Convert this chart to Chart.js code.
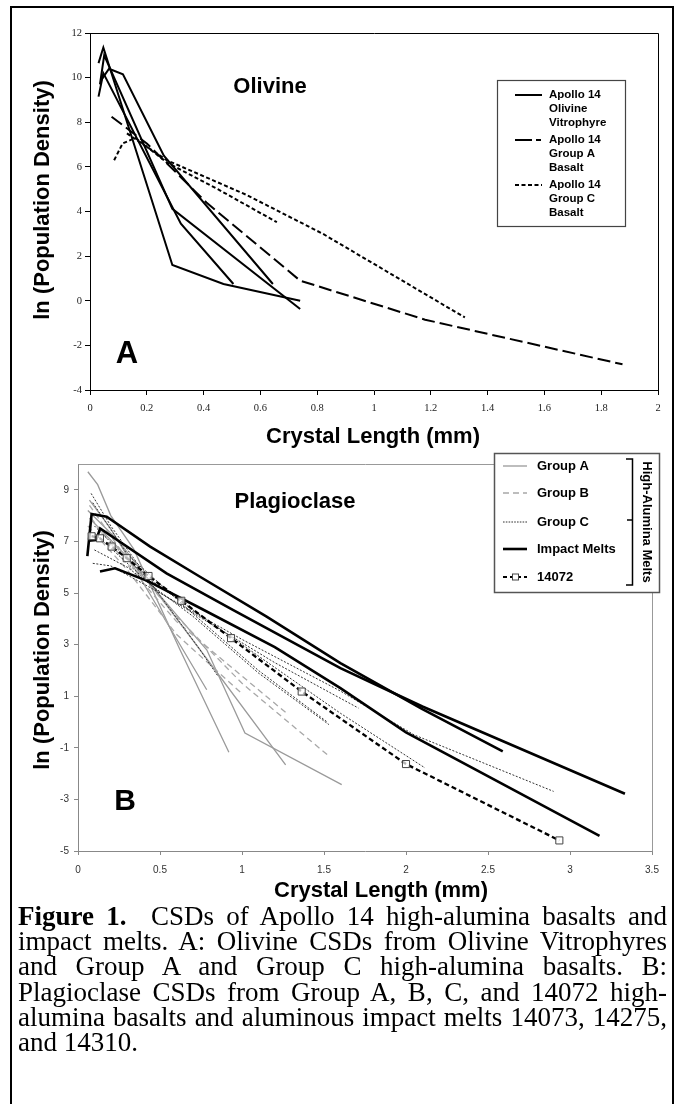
<!DOCTYPE html>
<html>
<head>
<meta charset="utf-8">
<title>CSDs of Apollo 14 high-alumina basalts and impact melts</title>
<script src="https://cdn.jsdelivr.net/npm/chart.js@4.4.1/dist/chart.umd.min.js"></script>
<style>
  html, body { margin: 0; padding: 0; background: #fff; }
  body { width: 681px; height: 1104px; position: relative; overflow: hidden; }
  #frame { position: absolute; left: 10px; top: 6px; width: 660px; height: 1110px; border: 2px solid #000; }
  #chartA { position: absolute; left: 0; top: 0; }
  #chartB { position: absolute; left: 0; top: 450px; }
  #caption {
    position: absolute; left: 18px; top: 904px; width: 649px;
    font-family: "Liberation Serif", "Times New Roman", serif;
    font-size: 27px; line-height: 25.2px; color: #000;
  }
  #caption div { text-align: justify; text-align-last: justify; white-space: nowrap; }
  #caption div.last { text-align-last: left; }
</style>
</head>
<body>
<div id="frame"></div>
<canvas id="chartA" width="681" height="450"></canvas>
<canvas id="chartB" width="681" height="460"></canvas>
<div id="caption">
  <div><b>Figure 1.</b>&nbsp; CSDs of Apollo 14 high-alumina basalts and</div>
  <div>impact melts. A: Olivine CSDs from Olivine Vitrophyres</div>
  <div>and Group A and Group C high-alumina basalts. B:</div>
  <div>Plagioclase CSDs from Group A, B, C, and 14072 high-</div>
  <div>alumina basalts and aluminous impact melts 14073, 14275,</div>
  <div class="last">and 14310.</div>
</div>
<script>
// ---- panel A : olivine, [crystal length mm, ln(population density)]
const olivineXTicks = [0, 0.2, 0.4, 0.6, 0.8, 1, 1.2, 1.4, 1.6, 1.8, 2];
const olivineYTicks = [-4, -2, 0, 2, 4, 6, 8, 10, 12];

const olivineVitro1 = [[0.03, 10.65], [0.047, 11.35], [0.29, 1.6], [0.47, 0.75], [0.74, 0.0]];
const olivineVitro2 = [[0.035, 9.7], [0.05, 11.0], [0.29, 4.12], [0.74, -0.37]];
const olivineVitro3 = [[0.03, 9.15], [0.047, 10.2], [0.32, 3.45], [0.505, 0.75]];
const olivineVitro4 = [[0.04, 9.9], [0.067, 10.4], [0.116, 10.15], [0.26, 6.5], [0.644, 0.75]];
const olivineGroupA = [[0.076, 8.25], [0.2, 7.05], [0.41, 4.4], [0.74, 0.9], [1.18, -0.85], [1.875, -2.85]];
const olivineGroupC1 = [[0.085, 6.3], [0.115, 7.05], [0.16, 7.3], [0.27, 6.2], [0.45, 5.0], [0.658, 3.52]];
const olivineGroupC2 = [[0.13, 7.5], [0.27, 6.3], [0.55, 4.75], [0.82, 3.0], [1.32, -0.75]];

const olivineLegend = [
  ["Apollo 14", "Olivine", "Vitrophyre"],
  ["Apollo 14", "Group A", "Basalt"],
  ["Apollo 14", "Group C", "Basalt"]
];

// ---- panel B : plagioclase
const plagXTicks = [0, 0.5, 1, 1.5, 2, 2.5, 3, 3.5];
const plagYTicks = [-5, -3, -1, 1, 3, 5, 7, 9];

const groupA1 = [[0.06, 9.7], [0.12, 9.2], [0.2, 8.0], [0.34, 6.7], [0.622, 2.8], [0.92, -1.17]];
const groupA2 = [[0.07, 8.6], [0.2, 7.5], [0.46, 4.73], [0.785, 1.25]];
const groupA3 = [[0.06, 8.2], [0.25, 7.0], [0.5, 4.9], [0.785, 2.8], [1.018, -0.43], [1.608, -2.43]];
const groupA4 = [[0.07, 7.9], [0.3, 6.4], [0.52, 4.7], [0.744, 2.8], [1.266, -1.66]];

const groupB1 = [[0.07, 8.4], [0.3, 6.3], [0.6, 4.1], [1.0, 1.5], [1.52, -1.27]];
const groupB2 = [[0.08, 7.9], [0.3, 6.1], [0.6, 3.9], [1.27, 0.35]];
const groupB3 = [[0.06, 7.6], [0.3, 5.9], [0.6, 3.4], [1.0, 1.1]];

const groupC1 = [[0.08, 8.86], [0.2, 7.6], [0.5, 4.9], [0.744, 2.8], [0.855, 1.76]];
const groupC2 = [[0.09, 8.5], [0.3, 6.5], [0.7, 4.2], [1.1, 2.0], [1.52, 0.0]];
const groupC3 = [[0.1, 6.67], [0.3, 6.0], [0.7, 4.1], [1.1, 1.9], [1.53, -0.1]];
const groupC4 = [[0.09, 6.15], [0.2, 6.05], [0.5, 5.0], [1.0, 3.2], [1.6, 1.2], [2.05, -0.5], [2.9, -2.69]];
const groupC5 = [[0.1, 7.6], [0.4, 5.7], [1.0, 3.0], [1.6, 0.34], [2.116, -1.78]];
const groupC6 = [[0.12, 7.2], [0.5, 5.0], [1.2, 2.3], [1.71, 0.54]];

const impact14073 = [[0.057, 6.43], [0.083, 8.06], [0.175, 7.96], [0.44, 6.8], [0.744, 5.63], [1.15, 4.08], [1.6, 2.28], [2.1, 0.5], [2.59, -1.14]];
const impact14275 = [[0.065, 7.03], [0.11, 7.05], [0.135, 7.5], [0.54, 5.76], [0.947, 4.34], [1.6, 2.09], [2.1, 0.6], [3.335, -2.78]];
const impact14310 = [[0.134, 5.83], [0.226, 5.96], [0.43, 5.45], [0.75, 4.4], [1.2, 2.9], [1.6, 1.31], [2.0, -0.4], [3.18, -4.41]];
const sample14072 = [[0.083, 7.2], [0.134, 7.12], [0.205, 6.8], [0.297, 6.35], [0.43, 5.66], [0.63, 4.7], [0.933, 3.25], [1.364, 1.18], [2.0, -1.63], [2.935, -4.59]];

const plagLegend = ["Group A", "Group B", "Group C", "Impact Melts", "14072"];

const SANS = '"Liberation Sans", Arial, sans-serif';
const SERIF = '"Liberation Serif", "Times New Roman", serif';

// line styles
const vitroStyle = { borderColor: "#000", borderWidth: 2 };
const basaltAStyle = { borderColor: "#000", borderWidth: 2, borderDash: [13, 5] };
const basaltCStyle = { borderColor: "#000", borderWidth: 2, borderDash: [4, 2.5] };
const grpAStyle = { borderColor: "#9a9a9a", borderWidth: 1.3 };
const grpBStyle = { borderColor: "#a8a8a8", borderWidth: 1.3, borderDash: [6, 4] };
const grpCStyle = { borderColor: "#333", borderWidth: 1, borderDash: [2, 1.6] };
const impactStyle = { borderColor: "#000", borderWidth: 2.6 };
const s14072Style = {
  borderColor: "#000", borderWidth: 2.3, borderDash: [5, 3],
  pointRadius: 5, pointStyle: "rect", pointBorderColor: "#444",
  pointBackgroundColor: "rgba(255,255,255,0.7)", pointBorderWidth: 1
};

function line(points, style) {
  return Object.assign({
    data: points.map(([x, y]) => ({ x, y })),
    showLine: true, pointRadius: 0, tension: 0, fill: false
  }, style);
}

// axis with a fixed box size and explicit ticks
function axis(size, ticks, min, max, look) {
  return {
    type: "linear", min: min, max: max,
    afterBuildTicks(s) { s.ticks = ticks.map(v => ({ value: v })); },
    afterFit(s) {
      if (s.isHorizontal()) s.height = size; else s.width = size;
      s.paddingLeft = s.paddingRight = s.paddingTop = s.paddingBottom = 0;
    },
    ticks: {
      font: look.font, color: look.labelColor, padding: look.pad,
      maxRotation: 0, autoSkip: false, callback: v => String(v)
    },
    grid: { drawOnChartArea: false, tickLength: look.tick, tickColor: look.lineColor, color: look.lineColor },
    border: { color: look.lineColor, width: 1 }
  };
}

function text(ctx, str, x, y, size, rot, weight) {
  ctx.save();
  ctx.translate(x, y);
  if (rot) ctx.rotate(rot);
  ctx.font = (weight || "bold") + " " + size + "px " + SANS;
  ctx.fillStyle = "#000";
  ctx.textAlign = "center";
  ctx.textBaseline = "middle";
  ctx.fillText(str, 0, 0);
  ctx.restore();
}

function sample(ctx, x1, x2, y, color, width, dash) {
  ctx.save();
  ctx.beginPath();
  ctx.strokeStyle = color;
  ctx.lineWidth = width;
  ctx.setLineDash(dash || []);
  ctx.moveTo(x1, y);
  ctx.lineTo(x2, y);
  ctx.stroke();
  ctx.restore();
}

function frameTopRight(ctx, a, color) {
  ctx.save();
  ctx.strokeStyle = color;
  ctx.lineWidth = 1;
  ctx.beginPath();
  ctx.moveTo(Math.round(a.left) + 0.5, Math.round(a.top) + 0.5);
  ctx.lineTo(Math.round(a.right) + 0.5, Math.round(a.top) + 0.5);
  ctx.lineTo(Math.round(a.right) + 0.5, Math.round(a.bottom) + 0.5);
  ctx.stroke();
  ctx.restore();
}

const olivineDecor = {
  id: "olivineDecor",
  afterDraw(chart) {
    const ctx = chart.ctx;
    frameTopRight(ctx, chart.chartArea, "#000");
    text(ctx, "ln (Population Density)", 43, 200, 22, -Math.PI / 2);
    text(ctx, "Crystal Length (mm)", 373, 437, 22);
    text(ctx, "Olivine", 270, 87, 22);
    text(ctx, "A", 127, 354, 31);

    // legend
    ctx.save();
    ctx.fillStyle = "#fff";
    ctx.fillRect(497, 80, 128, 146);
    ctx.strokeStyle = "#444";
    ctx.lineWidth = 1.2;
    ctx.strokeRect(497.5, 80.5, 128, 146);
    ctx.font = "bold 11.5px " + SANS;
    ctx.fillStyle = "#000";
    ctx.textBaseline = "middle";
    const rows = [95, 140, 185];
    olivineLegend.forEach((lines, i) => {
      lines.forEach((s, j) => ctx.fillText(s, 549, rows[i] + j * 13.7));
    });
    ctx.restore();
    sample(ctx, 515, 542, rows[0], "#000", 2);
    sample(ctx, 515, 542, rows[1], "#000", 2, [17, 4, 5, 100]);
    sample(ctx, 515, 542, rows[2], "#000", 2, [4, 2.5]);
  }
};

const plagDecor = {
  id: "plagDecor",
  afterDraw(chart) {
    const ctx = chart.ctx;
    frameTopRight(ctx, chart.chartArea, "#999");
    text(ctx, "ln (Population Density)", 43, 200, 22, -Math.PI / 2);
    text(ctx, "Crystal Length (mm)", 381, 441, 22);
    text(ctx, "Plagioclase", 295, 52, 22);
    text(ctx, "B", 125, 352, 30);

    // legend
    ctx.save();
    ctx.fillStyle = "#fff";
    ctx.fillRect(494, 3, 165, 139);
    ctx.strokeStyle = "#555";
    ctx.lineWidth = 1.5;
    ctx.strokeRect(494.5, 3.5, 165, 139);
    ctx.font = "bold 13px " + SANS;
    ctx.fillStyle = "#000";
    ctx.textBaseline = "middle";
    const rows = [16, 43, 72, 99, 127];
    plagLegend.forEach((s, i) => ctx.fillText(s, 537, rows[i]));
    ctx.restore();
    sample(ctx, 503, 527, rows[0], grpAStyle.borderColor, 1.3);
    sample(ctx, 503, 527, rows[1], grpBStyle.borderColor, 1.3, [6, 4]);
    sample(ctx, 503, 527, rows[2], "#333", 1, [1.6, 1.2]);
    sample(ctx, 503, 527, rows[3], "#000", 2.6);
    sample(ctx, 503, 527, rows[4], "#000", 2.2, [4, 3]);
    ctx.save();
    ctx.fillStyle = "#fff";
    ctx.strokeStyle = "#444";
    ctx.lineWidth = 1;
    ctx.fillRect(512, rows[4] - 3.5, 7, 7);
    ctx.strokeRect(512.5, rows[4] - 3, 6, 6);
    // bracket
    ctx.strokeStyle = "#000";
    ctx.lineWidth = 1.5;
    ctx.beginPath();
    ctx.moveTo(626, 9); ctx.lineTo(632.5, 9); ctx.lineTo(632.5, 135); ctx.lineTo(626, 135);
    ctx.moveTo(632.5, 70); ctx.lineTo(627, 70);
    ctx.stroke();
    ctx.restore();
    text(ctx, "High-Alumina Melts", 647, 72, 13, Math.PI / 2);
  }
};

const baseOptions = (padding) => ({
  responsive: false,
  animation: false,
  events: [],
  layout: { padding: padding },
  plugins: { legend: { display: false }, tooltip: { enabled: false } }
});

const lookA = { font: { family: SERIF, size: 10.5 }, labelColor: "#222", lineColor: "#000", tick: 5, pad: 3 };
const lookAx = Object.assign({}, lookA, { pad: 7 });
const lookB = { font: { family: SANS, size: 10 }, labelColor: "#333", lineColor: "#888", tick: 4, pad: 5 };
const lookBx = Object.assign({}, lookB, { pad: 9 });

new Chart(document.getElementById("chartA"), {
  type: "scatter",
  data: {
    datasets: [
      line(olivineVitro1, vitroStyle),
      line(olivineVitro2, vitroStyle),
      line(olivineVitro3, vitroStyle),
      line(olivineVitro4, vitroStyle),
      line(olivineGroupA, basaltAStyle),
      line(olivineGroupC1, basaltCStyle),
      line(olivineGroupC2, basaltCStyle)
    ]
  },
  options: Object.assign(baseOptions({ left: 0, top: 33, right: 23, bottom: 0 }), {
    scales: {
      x: axis(60, olivineXTicks, 0, 2, lookAx),
      y: axis(90, olivineYTicks, -4, 12, lookA)
    }
  }),
  plugins: [olivineDecor]
});

new Chart(document.getElementById("chartB"), {
  type: "scatter",
  data: {
    datasets: [
      line(sample14072, s14072Style),
      line(impact14073, impactStyle),
      line(impact14275, impactStyle),
      line(impact14310, impactStyle),
      line(groupC1, grpCStyle),
      line(groupC2, grpCStyle),
      line(groupC3, grpCStyle),
      line(groupC4, grpCStyle),
      line(groupC5, grpCStyle),
      line(groupC6, grpCStyle),
      line(groupB1, grpBStyle),
      line(groupB2, grpBStyle),
      line(groupB3, grpBStyle),
      line(groupA1, grpAStyle),
      line(groupA2, grpAStyle),
      line(groupA3, grpAStyle),
      line(groupA4, grpAStyle)
    ]
  },
  options: Object.assign(baseOptions({ left: 0, top: 14, right: 29, bottom: 4 }), {
    scales: {
      x: axis(55, plagXTicks, 0, 3.5, lookBx),
      y: axis(78, plagYTicks, -5, 10, lookB)
    }
  }),
  plugins: [plagDecor]
});
</script>
</body>
</html>
